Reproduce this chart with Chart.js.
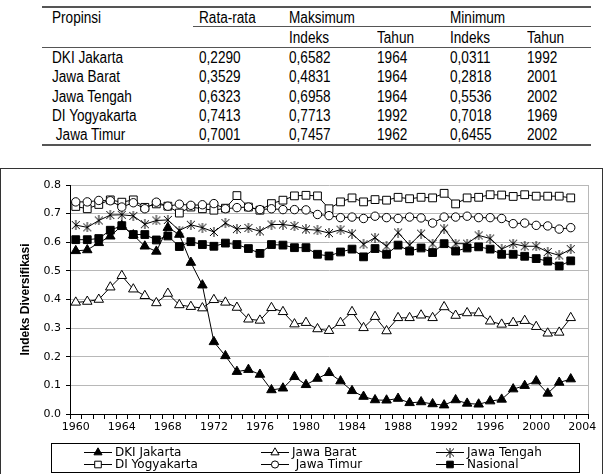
<!DOCTYPE html>
<html>
<head>
<meta charset="utf-8">
<script src="https://cdn.jsdelivr.net/npm/chart.js@4.4.0/dist/chart.umd.min.js"></script>
<style>
body{margin:0;width:605px;height:474px;overflow:hidden;background:#fff;position:relative;}
#tbl{position:absolute;left:0;top:0;width:605px;height:160px;font-family:"Liberation Sans",Arial,sans-serif;font-size:16px;color:#000;}
#tbl .t{position:absolute;white-space:pre;line-height:16px;transform:scaleX(0.85);transform-origin:0 0;}
#tbl .hl{position:absolute;background:#555;}
#frame{position:absolute;left:0;top:168px;width:601px;height:310px;border:1px solid #333;}
#c{position:absolute;left:1px;top:169px;}
</style>
</head>
<body>
<div id="tbl"></div>
<div id="frame"></div>
<canvas id="c" width="601" height="305"></canvas>
<script>
// table
const tblHead = ['Propinsi', 'Rata-rata', 'Maksimum', '', 'Minimum', ''];
const tblSub = ['', '', 'Indeks', 'Tahun', 'Indeks', 'Tahun'];
const provinces = ['DKI Jakarta', 'Jawa Barat', 'Jawa Tengah', 'DI Yogyakarta', ' Jawa Timur'];
const avgIndex = ['0,2290', '0,3529', '0,6323', '0,7413', '0,7001'];
const maxIndex = ['0,6582', '0,4831', '0,6958', '0,7713', '0,7457'];
const maxYear = ['1964', '1964', '1964', '1992', '1962'];
const minIndex = ['0,0311', '0,2818', '0,5536', '0,7018', '0,6455'];
const minYear = ['1992', '2001', '2002', '1969', '2002'];

// chart
const years = ['1960','1961','1962','1963','1964','1965','1966','1967','1968','1969',
  '1970','1971','1972','1973','1974','1975','1976','1977','1978','1979',
  '1980','1981','1982','1983','1984','1985','1986','1987','1988','1989',
  '1990','1991','1992','1993','1994','1995','1996','1997','1998','1999',
  '2000','2001','2002','2003','2004'];
const seriesNames = ['DKI Jakarta', 'Jawa Barat', 'Jawa Tengah', 'DI Yogyakarta', ' Jawa Timur', 'Nasional'];
const dkiJakarta = [0.570,0.573,0.598,0.621,0.658,0.625,0.586,0.568,0.651,0.627,
  0.529,0.450,0.252,0.203,0.148,0.155,0.138,0.084,0.090,0.130,
  0.102,0.124,0.144,0.115,0.081,0.061,0.049,0.048,0.054,0.039,
  0.042,0.035,0.031,0.049,0.037,0.034,0.045,0.051,0.087,0.099,
  0.115,0.072,0.110,0.122];
const jawaBarat = [0.390,0.393,0.400,0.443,0.483,0.436,0.413,0.388,0.421,0.381,
  0.375,0.370,0.399,0.390,0.372,0.331,0.327,0.371,0.357,0.314,
  0.319,0.297,0.291,0.319,0.357,0.301,0.340,0.290,0.336,0.336,
  0.345,0.336,0.374,0.344,0.353,0.353,0.324,0.313,0.319,0.326,
  0.305,0.282,0.285,0.336];
const jawaTengah = [0.660,0.652,0.676,0.695,0.696,0.692,0.663,0.676,0.678,0.641,
  0.661,0.651,0.636,0.667,0.646,0.650,0.638,0.662,0.662,0.657,
  0.645,0.642,0.632,0.644,0.630,0.593,0.616,0.586,0.634,0.590,
  0.630,0.595,0.648,0.595,0.595,0.624,0.613,0.576,0.595,0.586,
  0.586,0.566,0.554,0.576];
const diYogyakarta = [0.725,0.717,0.732,0.748,0.740,0.748,0.722,0.734,0.726,0.702,
  0.723,0.717,0.712,0.719,0.763,0.723,0.712,0.735,0.747,0.762,
  0.764,0.762,0.717,0.741,0.755,0.741,0.749,0.747,0.757,0.752,
  0.757,0.755,0.771,0.734,0.755,0.757,0.766,0.765,0.760,0.766,
  0.761,0.761,0.761,0.755];
const jawaTimur = [0.741,0.741,0.746,0.745,0.723,0.738,0.717,0.740,0.726,0.733,
  0.729,0.731,0.735,0.717,0.721,0.723,0.714,0.717,0.714,0.714,
  0.713,0.697,0.693,0.686,0.688,0.683,0.691,0.686,0.683,0.688,
  0.685,0.667,0.688,0.688,0.691,0.686,0.686,0.683,0.665,0.667,
  0.659,0.657,0.646,0.651];
const nasional = [0.609,0.609,0.613,0.642,0.658,0.627,0.627,0.608,0.622,0.585,
  0.602,0.592,0.586,0.597,0.592,0.578,0.561,0.592,0.590,0.581,
  0.581,0.558,0.552,0.566,0.576,0.549,0.578,0.558,0.590,0.569,
  0.580,0.564,0.595,0.569,0.580,0.584,0.576,0.558,0.558,0.551,
  0.543,0.534,0.517,0.535];

/* build table */
const tbl = document.getElementById('tbl');
const colX = [52, 199, 289, 377, 450, 527];
function putText(txt, x, yc){
    const d = document.createElement('div');
    d.className = 't';
    d.textContent = txt;
    d.style.left = x + 'px';
    d.style.top = (yc - 8) + 'px';
    tbl.appendChild(d);
}
function putLine(x, y, w, h){
    const d = document.createElement('div');
    d.className = 'hl';
    d.style.left = x + 'px'; d.style.top = y + 'px';
    d.style.width = w + 'px'; d.style.height = h + 'px';
    tbl.appendChild(d);
}
tblHead.forEach((t, i) => putText(t, colX[i], 18));
tblSub.forEach((t, i) => putText(t, colX[i], 38));
const rowY = [58, 77, 97, 116, 135];
provinces.forEach((p, r) => {
    [p, avgIndex[r], maxIndex[r], maxYear[r], minIndex[r], minYear[r]]
        .forEach((t, i) => putText(t, colX[i], rowY[r]));
});
putLine(42, 6, 549, 2);
putLine(193, 26, 398, 1);
putLine(42, 47, 549, 1);
putLine(42, 144, 549, 2);

/* markers */
function makeStar(){
    const cv = document.createElement('canvas');
    cv.width = 10; cv.height = 10;
    const g = cv.getContext('2d');
    g.strokeStyle = '#000'; g.lineWidth = 1;
    g.beginPath();
    g.moveTo(1, 1); g.lineTo(9, 9);
    g.moveTo(9, 1); g.lineTo(1, 9);
    g.moveTo(5, 0); g.lineTo(5, 10);
    g.stroke();
    return cv;
}
const star = makeStar();
const marker = [
    {style: 'triangle', r: 5.5, fill: '#000'},
    {style: 'triangle', r: 5.5, fill: '#fff'},
    {style: star, r: 5, fill: '#000'},
    {style: 'rect', r: 5.5, fill: '#fff'},
    {style: 'circle', r: 4.2, fill: '#fff'},
    {style: 'rect', r: 5.5, fill: '#000'}
];
const values = [dkiJakarta, jawaBarat, jawaTengah, diYogyakarta, jawaTimur, nasional];

const datasets = values.map((v, i) => ({
    label: seriesNames[i],
    data: v,
    borderColor: '#000',
    borderWidth: 1,
    pointStyle: marker[i].style,
    pointRadius: marker[i].r,
    pointBackgroundColor: marker[i].fill,
    pointBorderColor: '#000',
    pointBorderWidth: 1,
    tension: 0,
    fill: false,
    order: values.length - i
}));

/* legend drawn in a box like the original */
const boxLegend = {
    id: 'boxLegend',
    afterDraw(chart){
        const ctx = chart.ctx;
        ctx.save();
        ctx.strokeStyle = '#000';
        ctx.lineWidth = 1;
        ctx.strokeRect(50.5, 274.5, 528, 29);
        ctx.font = '12px "DejaVu Sans"';
        ctx.textBaseline = 'middle';
        ctx.fillStyle = '#000';
        const cols = [83, 260, 435], rows = [283, 295];
        chart.data.datasets.forEach((ds, i) => {
            const x0 = cols[i % 3], y = rows[Math.floor(i / 3)] + 0.5;
            ctx.beginPath();
            ctx.moveTo(x0, y); ctx.lineTo(x0 + 28, y);
            ctx.stroke();
            ctx.fillStyle = ds.pointBackgroundColor;
            if (Chart.helpers && Chart.helpers.drawPoint) {
                Chart.helpers.drawPoint(ctx, {pointStyle: ds.pointStyle, radius: ds.pointRadius * 0.85, rotation: 0, borderWidth: 1}, x0 + 14, y);
            }
            ctx.fillStyle = '#000';
            ctx.fillText(ds.label, x0 + 31, y);
        });
        ctx.restore();
    },
    beforeDatasetsDraw(chart){
        const a = chart.chartArea, ctx = chart.ctx;
        ctx.save();
        ctx.strokeStyle = '#b8b8b8';
        ctx.lineWidth = 1;
        ctx.beginPath();
        ctx.moveTo(Math.round(a.right) + 0.5, a.top);
        ctx.lineTo(Math.round(a.right) + 0.5, a.bottom);
        ctx.stroke();
        ctx.restore();
    }
};

new Chart(document.getElementById('c'), {
    type: 'line',
    data: {labels: years, datasets: datasets},
    plugins: [boxLegend],
    options: {
        responsive: false,
        animation: false,
        devicePixelRatio: 1,
        layout: {padding: {left: 0, top: 16, right: 14, bottom: 30}},
        plugins: {legend: {display: false}, tooltip: {enabled: false}},
        scales: {
            x: {
                type: 'category',
                offset: true,
                afterFit: s => { s.height = 30; },
                grid: {offset: true, drawOnChartArea: false, drawTicks: true, tickLength: 5, color: '#000'},
                border: {color: '#000', width: 1},
                ticks: {
                    autoSkip: false, maxRotation: 0, minRotation: 0, padding: 2,
                    color: '#000', font: {family: 'DejaVu Sans', size: 11},
                    callback: function(v, i){ return i % 4 === 0 ? this.getLabelForValue(v) : ''; }
                }
            },
            y: {
                min: 0, max: 0.8,
                afterFit: s => { s.width = 69; },
                grid: {color: '#b8b8b8', tickColor: '#000', tickLength: 4, drawTicks: true},
                border: {color: '#000', width: 1},
                ticks: {
                    stepSize: 0.1, padding: 5, color: '#000',
                    font: {family: 'DejaVu Sans', size: 11},
                    callback: v => v.toFixed(1)
                },
                title: {
                    display: true, text: 'Indeks Diversifikasi', color: '#000',
                    font: {family: 'Liberation Sans', size: 12, weight: 'bold'},
                    padding: {top: 17, bottom: 0}
                }
            }
        }
    }
});
</script>
</body>
</html>
